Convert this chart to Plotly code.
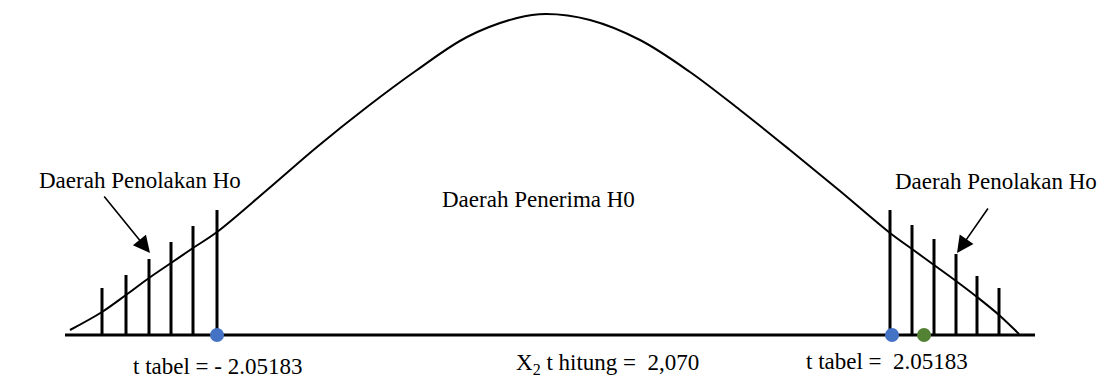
import plotly.graph_objects as go

# Kurva distribusi t (satuan piksel)
curve_x = [70, 102, 126, 149, 171, 193, 217, 267, 317, 367, 417, 467, 517, 546,
           590, 640, 690, 740, 790, 840, 890, 912, 934, 956, 977, 999, 1019]
curve_y = [330, 312, 295, 278, 263, 248, 232, 190, 147, 107, 70, 37, 18, 14,
           20, 40, 72, 110, 150, 191, 233, 249, 265, 281, 297, 315, 334]

# Garis-garis daerah penolakan
left_bar_x = [102, 126, 149, 171, 193, 217]
left_bar_top = [288, 275, 259, 242, 226, 210]
right_bar_x = [890, 912, 934, 956, 977, 999]
right_bar_top = [210, 225, 239, 254, 276, 288]
baseline = 335
axis_x = [65, 1035]

# Titik t tabel dan t hitung
ttabel_x = [217, 892]
thitung_x = [924]

fig = go.Figure()

# Sumbu horizontal
fig.add_scatter(x=axis_x, y=[baseline, baseline], mode='lines',
                line=dict(color='black', width=3), hoverinfo='skip')

# Garis vertikal
bx, by = [], []
for x, top in zip(left_bar_x + right_bar_x, left_bar_top + right_bar_top):
    bx += [x, x, None]
    by += [baseline, top, None]
fig.add_scatter(x=bx, y=by, mode='lines', line=dict(color='black', width=3),
                hoverinfo='skip')

# Kurva
fig.add_scatter(x=curve_x, y=curve_y, mode='lines',
                line=dict(color='black', width=2, shape='spline', smoothing=1),
                hoverinfo='skip')

# Titik
fig.add_scatter(x=ttabel_x, y=[baseline] * len(ttabel_x), mode='markers',
                marker=dict(color='#4472C4', size=14), hoverinfo='skip')
fig.add_scatter(x=thitung_x, y=[baseline] * len(thitung_x), mode='markers',
                marker=dict(color='#548235', size=14), hoverinfo='skip')

font = dict(family='Liberation Serif', size=23, color='black')

# Panah
for (x0, y0, x1, y1) in [(103, 195, 150, 253), (989, 207, 957, 253)]:
    fig.add_annotation(x=x1, y=y1, ax=x0, ay=y0, xref='x', yref='y',
                       axref='x', ayref='y', text='', showarrow=True,
                       arrowhead=2, arrowsize=2.1, arrowwidth=1.6, arrowcolor='black')

# Teks
labels = [
    (140, 180, 'Daerah Penolakan Ho'),
    (996, 181, 'Daerah Penolakan Ho'),
    (538, 199, 'Daerah Penerima H0'),
    (217, 366, 't tabel = - 2.05183'),
    (607, 364, 'X<sub>2</sub> t hitung =\u00a0 2,070'),
    (887, 361, 't tabel =\u00a0 2.05183'),
]
for x, y, t in labels:
    fig.add_annotation(x=x, y=y, xref='x', yref='y', text=t, showarrow=False,
                       font=font, xanchor='center', yanchor='middle')

fig.update_layout(
    width=1118, height=381,
    margin=dict(l=0, r=0, t=0, b=0),
    paper_bgcolor='white', plot_bgcolor='white',
    showlegend=False,
    xaxis=dict(range=[0, 1118], visible=False, fixedrange=True),
    yaxis=dict(range=[381, 0], visible=False, fixedrange=True),
)

# Hilangkan margin body bawaan halaman
fig.write_html("out.html",
               config={'displayModeBar': False},
               post_script="document.body.style.margin='0';"
                           "document.body.style.overflow='hidden';")
